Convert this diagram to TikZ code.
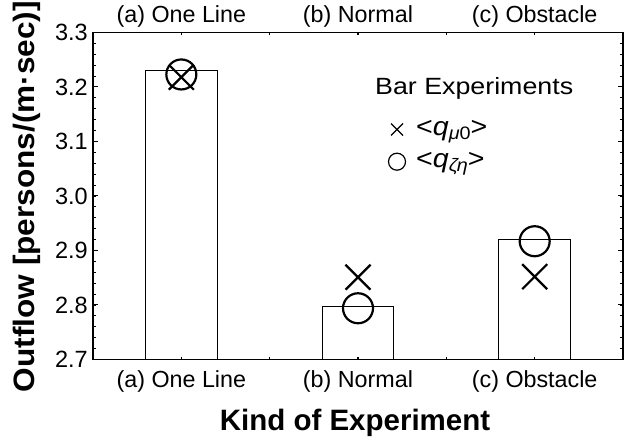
\documentclass[tikz,border=0pt]{standalone}
\usepackage{fontspec}
\setmainfont{Liberation Sans}
\begin{document}
\begin{tikzpicture}[x=1pt,y=1pt,
  ticklab/.style={font=\fontsize{23.5}{26}\selectfont, anchor=east, inner sep=0pt},
  catlab/.style={font=\fontsize{23.3}{26}\selectfont, anchor=base, inner sep=0pt},
  axlab/.style={font=\fontsize{29.5}{32}\bfseries\selectfont, anchor=base, inner sep=0pt},
  legtext/.style={font=\fontsize{23.5}{28}\selectfont, anchor=base west, inner sep=0pt},
  legentry/.style={font=\fontsize{26}{28}\selectfont, anchor=base west, inner sep=0pt},
  barbox/.style={draw=black, line width=1pt, fill=white},
  frame/.style={draw=black, line width=1.2pt},
  mk/.style={draw=black, line width=2.2pt},
  legmk/.style={draw=black, line width=1.2pt}]
\useasboundingbox (0,0) rectangle (636,441);
\begin{scope}[x=176.667pt, y=545pt, shift={(4.667pt,-1390pt)}]
  % bars
  \draw[barbox] (0.798,2.7) rectangle (1.202,3.23);
  \draw[barbox] (1.798,2.7) rectangle (2.202,2.797);
  \draw[barbox] (2.798,2.7) rectangle (3.202,2.92);
  % frame
  \draw[frame] (0.5,2.7) rectangle (3.5,3.3);
  % y ticks
  \foreach \i in {0,...,30} {
    \draw[line width=0.9pt] (0.5,{2.7+0.02*\i}) -- ++(3pt,0);
    \draw[line width=0.9pt] (3.5,{2.7+0.02*\i}) -- ++(-3pt,0);
  }
  \foreach \v/\n in {2.7/a,2.8/b,2.9/c,3.0/d,3.1/e,3.2/f,3.3/g} {
    \draw[line width=1pt] (0.5,\v) -- ++(5pt,0);
    \draw[line width=1pt] (3.5,\v) -- ++(-5pt,0);
    \node[ticklab] (tl\n) at ([xshift=-5pt]0.5,\v) {\v};
  }
  % x ticks
  \foreach \c in {1,1.5,2,2.5,3} {
    \draw[line width=1.5pt] (\c,2.7) -- ++(0,2.5pt);
    \draw[line width=1.5pt] (\c,3.3) -- ++(0,-2.5pt);
  }
  % category labels
  \node[catlab] (ba) at ([yshift=-27.5pt]1,2.7) {(a) One Line};
  \node[catlab] (bb) at ([yshift=-27.5pt]2,2.7) {(b) Normal};
  \node[catlab] (bc) at ([yshift=-27.5pt]3,2.7) {(c) Obstacle};
  \node[catlab] (ta) at ([yshift=9.8pt]1,3.3) {(a) One Line};
  \node[catlab] (tb) at ([yshift=9.8pt]2,3.3) {(b) Normal};
  \node[catlab] (tc) at ([yshift=9.8pt]3,3.3) {(c) Obstacle};
  % markers
  \draw[mk] (1,3.223) circle[radius=15pt];
  \draw[mk] (1,3.218) +(-12.5pt,-12.5pt) -- +(12.5pt,12.5pt) +(-12.5pt,12.5pt) -- +(12.5pt,-12.5pt);
  \draw[mk] (2,2.794) circle[radius=15pt];
  \draw[mk] (2,2.851) +(-12.5pt,-12.5pt) -- +(12.5pt,12.5pt) +(-12.5pt,12.5pt) -- +(12.5pt,-12.5pt);
  \draw[mk] (3,2.917) circle[radius=15pt];
  \draw[mk] (3,2.852) +(-12.5pt,-12.5pt) -- +(12.5pt,12.5pt) +(-12.5pt,12.5pt) -- +(12.5pt,-12.5pt);
\end{scope}
% axis labels
\node[axlab] (xlab) at (355,11) {Kind of Experiment};
\node[axlab, rotate=90] (ylab) at (35,244.5) {\scalebox{1.07}[1]{Outflow [persons/(m·sec)]}};
% legend
\node[legtext] (legt) at (375,346) {\scalebox{1.14}[1]{Bar Experiments}};
\draw[legmk] (397,311.5) +(-6,-6) -- +(6,6) +(-6,6) -- +(6,-6);
\draw[legmk] (397,279.3) circle[radius=8.5];
\node[legentry] (leg1) at (416,305) {\scalebox{1.1}[1]{<\textit{q}\raisebox{-4pt}{\fontsize{18}{18}\selectfont\textit{μ}0}>}};
\node[legentry] (leg2) at (416,273) {\scalebox{1.1}[1]{<\textit{q}\raisebox{-4pt}{\fontsize{18}{18}\selectfont\textit{ζη}}>}};
\end{tikzpicture}
\end{document}
